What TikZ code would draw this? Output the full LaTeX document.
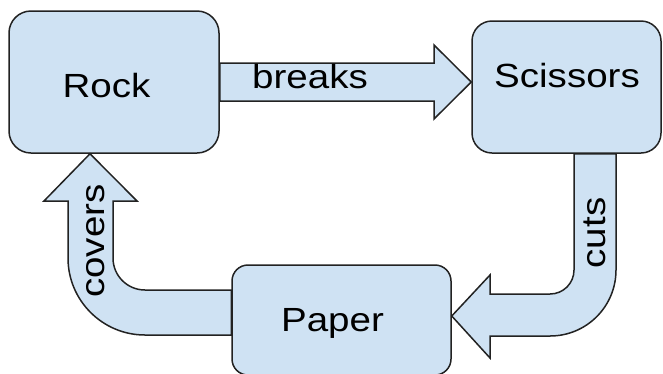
\documentclass[tikz,border=0pt]{standalone}
\usepackage{fontspec}
\setmainfont[FakeStretch=1.15]{Liberation Sans}
\definecolor{boxblue}{HTML}{CFE2F3}
\definecolor{edge}{HTML}{222222}
\begin{document}
\begin{tikzpicture}[x=1pt,y=-1pt,font=\fontsize{33.5}{40}\selectfont]
\tikzset{
  box/.style={draw=edge,fill=boxblue,line width=1.5pt,rounded corners=#1},
  fat/.style={draw=edge,fill=boxblue,line width=1.5pt,line join=miter},
  word/.style={inner sep=0pt,anchor=base}
}
\useasboundingbox (0,0) rectangle (663,373);

\node[box=22pt,minimum width=210pt,minimum height=142pt] (rock) at (114,82) {};
\node[box=20pt,minimum width=189pt,minimum height=132pt] (scissors) at (566.5,87) {};
\node[box=16pt,minimum width=219pt,minimum height=110pt] (paper) at (341.5,320) {};

\node[word] (rocktext) at (106.5,97) {Rock};
\node[word] (scissorstext) at (567,87) {Scissors};
\node[word] (papertext) at (332.5,331) {Paper};

% block arrows
\draw[fat] (rock.east |- 0,63) -- (434,63) -- (434,45) -- (scissors.west |- 0,82)
  -- (434,119) -- (434,101) -- (rock.east |- 0,101) -- cycle;
\draw[fat] (scissors.south -| 574,0) -- (574,270)
  .. controls (574,283.3) and (563.3,294) .. (550,294) -- (490,294) -- (490,275)
  -- (paper.east |- 0,316) -- (490,358) -- (490,336) -- (550,336)
  .. controls (586.5,336) and (616,306.5) .. (616,270) -- (scissors.south -| 616,0) -- cycle;
\draw[fat] (paper.west |- 0,290) -- (145,290)
  .. controls (127.3,290) and (113,275.7) .. (113,258) -- (113,201) -- (137,201)
  -- (rock.south -| 90,0) -- (44,201) -- (68,201) -- (68,258)
  .. controls (68,300.5) and (102.5,335) .. (145,335) -- (paper.west |- 0,335) -- cycle;

\node[word] (breaks) at (310,88) {breaks};
\node[word,rotate=90] (cuts) at (605,233) {cuts};
\node[word,rotate=90] (covers) at (104,241) {covers};

\end{tikzpicture}
\end{document}
